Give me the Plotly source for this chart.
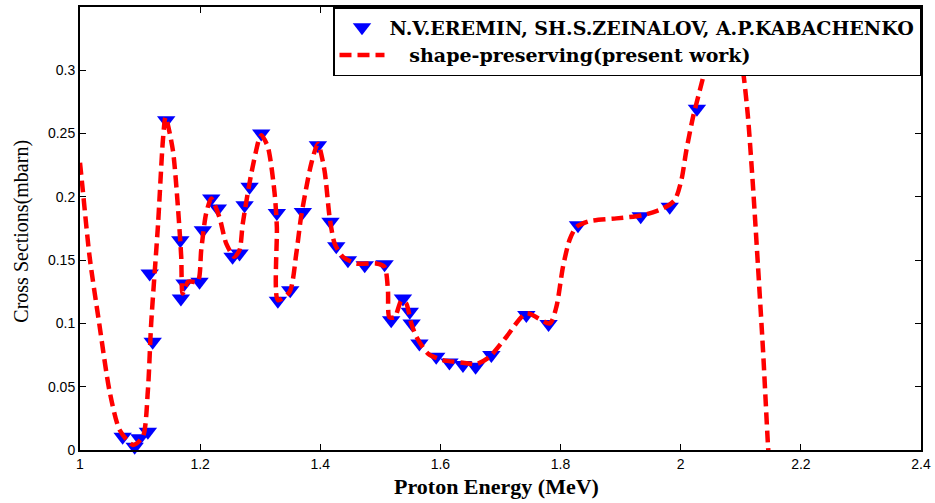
import plotly.graph_objects as go

# Measured data (Eremin, Zeinalov, Kabachenko)
exp_energy = [1.071, 1.091, 1.099, 1.113, 1.116, 1.121, 1.1435, 1.167, 1.168, 1.174,
              1.199, 1.2045, 1.2185, 1.2295, 1.254, 1.2656, 1.274, 1.2823, 1.3017, 1.3277,
              1.3294, 1.350, 1.371, 1.396, 1.417, 1.4266, 1.446, 1.474, 1.507, 1.518,
              1.5376, 1.549, 1.552, 1.565, 1.593, 1.615, 1.6375, 1.6586, 1.6848, 1.743,
              1.780, 1.829, 1.9334, 1.9817, 2.027]
exp_xs = [0.0105, 0.0026, 0.0092, 0.0145, 0.1395, 0.0855, 0.2605, 0.1658, 0.1197, 0.1316,
          0.1329, 0.1737, 0.1987, 0.1908, 0.1526, 0.1553, 0.1934, 0.2079, 0.2500, 0.1873,
          0.1179, 0.1263, 0.1881, 0.2408, 0.1803, 0.1610, 0.1500, 0.1460, 0.1468, 0.1026,
          0.1197, 0.1092, 0.1000, 0.0842, 0.0737, 0.0692, 0.0671, 0.0658, 0.0750, 0.1066,
          0.0995, 0.1776, 0.1847, 0.1921, 0.2697]

# Shape-preserving curve
fit_energy = [1.0, 1.0047, 1.016, 1.032, 1.049, 1.066, 1.088, 1.1046, 1.113, 1.1185,
              1.13, 1.138, 1.1424, 1.1546, 1.163, 1.1685, 1.171, 1.18, 1.196, 1.2018,
              1.21, 1.2185, 1.232, 1.2435, 1.257, 1.2656, 1.271, 1.285, 1.299, 1.302,
              1.3127, 1.324, 1.3277, 1.3294, 1.349, 1.36, 1.368, 1.385, 1.396, 1.407,
              1.4155, 1.424, 1.4376, 1.46, 1.493, 1.507, 1.5126, 1.515, 1.524, 1.535,
              1.543, 1.5515, 1.56, 1.579, 1.604, 1.6375, 1.66, 1.682, 1.71, 1.743,
              1.782, 1.793, 1.804, 1.815, 1.826, 1.848, 1.893, 1.937, 1.9705, 1.99,
              2.001, 2.0095, 2.0205, 2.0317, 2.04, 2.055, 2.072, 2.09, 2.1037, 2.112,
              2.12, 2.1287, 2.137, 2.1454, 2.15]
fit_xs = [0.227, 0.205, 0.1526, 0.100, 0.047, 0.0158, 0.004, 0.0105, 0.047, 0.100,
          0.179, 0.2447, 0.263, 0.2368, 0.192, 0.1526, 0.1237, 0.133, 0.133, 0.158,
          0.187, 0.1987, 0.184, 0.163, 0.1526, 0.158, 0.179, 0.218, 0.247, 0.2487,
          0.2395, 0.2027, 0.176, 0.1184, 0.125, 0.155, 0.184, 0.2263, 0.242, 0.221,
          0.184, 0.163, 0.1526, 0.1474, 0.1474, 0.1447, 0.1263, 0.105, 0.105, 0.118,
          0.1158, 0.100, 0.0895, 0.0763, 0.071, 0.069, 0.0679, 0.0737, 0.0895, 0.108,
          0.100, 0.113, 0.1447, 0.166, 0.176, 0.1808, 0.183, 0.1855, 0.1908, 0.1974,
          0.213, 0.237, 0.263, 0.284, 0.300, 0.340, 0.360, 0.340, 0.300, 0.263,
          0.2105, 0.1447, 0.079, 0.0026, -0.03]

x_ticks = [1, 1.2, 1.4, 1.6, 1.8, 2, 2.2, 2.4]
x_ticktext = ["1", "1.2", "1.4", "1.6", "1.8", "2", "2.2", "2.4"]
y_ticks = [0, 0.05, 0.1, 0.15, 0.2, 0.25, 0.3]
y_ticktext = ["0", "0.05", "0.1", "0.15", "0.2", "0.25", "0.3"]

x_title = "Proton Energy (MeV)"
y_title = "Cross Sections(mbarn)"

fig = go.Figure()
fig.add_trace(go.Scatter(
    x=exp_energy, y=exp_xs, mode="markers",
    name="N.V.EREMIN, SH.S.ZEINALOV, A.P.KABACHENKO",
    marker=dict(symbol="triangle-down", size=16, color="#0000ff",
                line=dict(width=0)),
    cliponaxis=False,
))
fig.add_trace(go.Scatter(
    x=fit_energy, y=fit_xs, mode="lines",
    name="\u00a0" * 3 + "shape-preserving(present work)",
    line=dict(color="#ff0000", width=4.5, dash="12px,6px", shape="spline", smoothing=0.7),
))

axis_common = dict(showline=True, linecolor="black", linewidth=2, mirror="ticks",
                   ticks="inside", ticklen=6, tickwidth=1, tickcolor="black",
                   showgrid=False, zeroline=False, automargin=False,
                   tickfont=dict(family="Liberation Sans, Arial, sans-serif", size=14, color="black"))

fig.update_layout(
    width=935, height=503,
    margin=dict(l=80, r=14, t=7, b=53),
    paper_bgcolor="white", plot_bgcolor="white",
    xaxis=dict(range=[1, 2.4], tickvals=x_ticks, ticktext=x_ticktext, **axis_common),
    yaxis=dict(range=[0, 0.35], tickvals=y_ticks, ticktext=y_ticktext, **axis_common),
    legend=dict(x=1, xanchor="right", y=1, yanchor="top",
                bgcolor="white", bordercolor="black", borderwidth=1.5,
                itemwidth=45, tracegroupgap=0,
                font=dict(family="DejaVu Serif, serif", size=19, color="black", weight="bold")),
    showlegend=True,
    annotations=[
        dict(text="<b>" + x_title + "</b>", xref="paper", yref="paper",
             x=0.495, y=-0.083, xanchor="center", yanchor="middle", showarrow=False,
             font=dict(family="Liberation Serif, Times New Roman, serif", size=22, color="black")),
        dict(text=y_title, xref="paper", yref="paper", textangle=-90,
             x=-0.069, y=0.495, xanchor="center", yanchor="middle", showarrow=False,
             font=dict(family="Liberation Serif, Times New Roman, serif", size=20, color="black")),
    ],
)

fig.write_html("out.html", config={"displayModeBar": False},
               post_script="document.body.style.margin='0';document.body.style.padding='0';")
